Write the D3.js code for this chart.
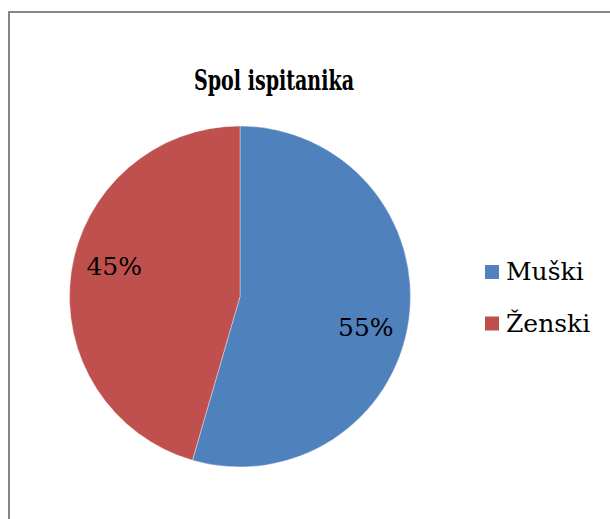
<!DOCTYPE html>
<html>
<head>
<meta charset="utf-8">
<script src="https://cdn.jsdelivr.net/npm/d3@7"></script>
<style>
  html, body { margin: 0; padding: 0; background: #fff; }
</style>
</head>
<body>
<svg id="chart"></svg>
<script>
const width = 610;
const height = 519;
const font = "'DejaVu Serif', serif";

const title = "Spol ispitanika";
const categories = ["Muški", "Ženski"];
const values = [54.5, 45.5];
const labels = ["55%", "45%"];
const colors = ["#4F81BD", "#C0504D"];

const cx = 240, cy = 296.5, radius = 170.5;
const labelAngleShift = 0.1;

const svg = d3.select("#chart")
  .attr("width", width)
  .attr("height", height)
  .attr("viewBox", [0, 0, width, height])
  .style("display", "block");

// chart frame, runs off the right and bottom edges
svg.append("rect")
  .attr("x", 9)
  .attr("y", 12)
  .attr("width", width + 20)
  .attr("height", height + 20)
  .attr("fill", "#fff")
  .attr("stroke", "#868686")
  .attr("stroke-width", 2);

svg.append("text")
  .attr("x", 274)
  .attr("y", 90)
  .attr("text-anchor", "middle")
  .attr("font-family", font)
  .attr("font-size", 27)
  .attr("font-weight", "bold")
  .attr("textLength", 160)
  .attr("lengthAdjust", "spacingAndGlyphs")
  .text(title);

const data = categories.map((c, i) => ({ name: c, value: values[i], label: labels[i], color: colors[i] }));

const pie = d3.pie()
  .sort(null)
  .value(d => d.value);

const arc = d3.arc()
  .innerRadius(0)
  .outerRadius(radius);

const g = svg.append("g")
  .attr("transform", `translate(${cx},${cy})`);

const arcs = pie(data);

g.selectAll("path")
  .data(arcs)
  .join("path")
  .attr("d", arc)
  .attr("fill", d => d.data.color)
  .attr("stroke", "#fff")
  .attr("stroke-opacity", 0.6)
  .attr("stroke-width", 0.6);

g.selectAll("text")
  .data(arcs)
  .join("text")
  .attr("transform", d => {
    const a = (d.startAngle + d.endAngle) / 2 + labelAngleShift;
    const r = radius * 0.76;
    return `translate(${Math.sin(a) * r},${-Math.cos(a) * r})`;
  })
  .attr("text-anchor", "middle")
  .attr("dy", "0.36em")
  .attr("font-family", font)
  .attr("font-size", 25)
  .attr("fill", "#000")
  .text(d => d.data.label);

const legend = svg.append("g")
  .attr("transform", "translate(485,265)");

const item = legend.selectAll("g")
  .data(data)
  .join("g")
  .attr("transform", (d, i) => `translate(0,${i * 51.5})`);

item.append("rect")
  .attr("width", 14)
  .attr("height", 14)
  .attr("fill", d => d.color);

item.append("text")
  .attr("x", 21)
  .attr("y", 15)
  .attr("font-family", font)
  .attr("font-size", 25)
  .attr("fill", "#000")
  .text(d => d.name);
</script>
</body>
</html>
